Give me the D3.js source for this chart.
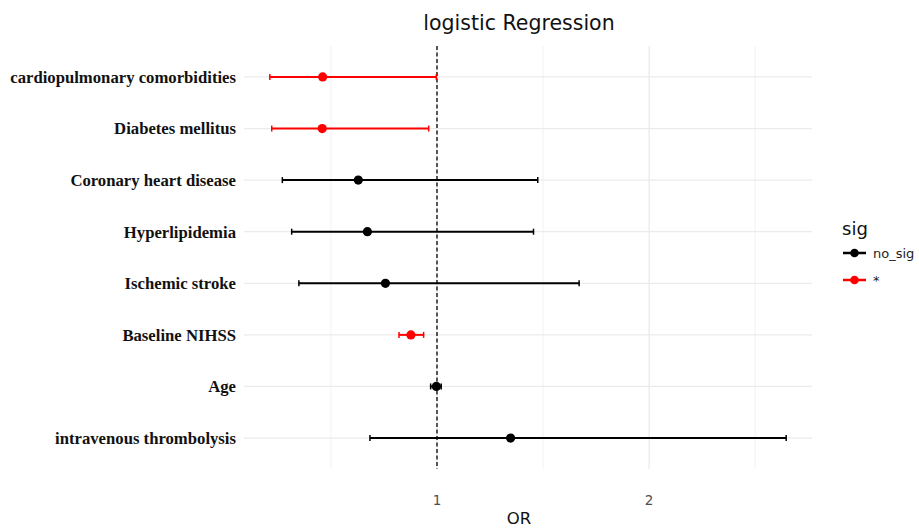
<!DOCTYPE html>
<html>
<head>
<meta charset="utf-8">
<script src="https://cdn.jsdelivr.net/npm/d3@7"></script>
<style>
    body { margin: 0; background: #fff; }
    svg { display: block; }
</style>
</head>
<body>
<div id="chart"></div>
<script>
const variables = [
    "cardiopulmonary comorbidities",
    "Diabetes mellitus",
    "Coronary heart disease",
    "Hyperlipidemia",
    "Ischemic stroke",
    "Baseline NIHSS",
    "Age",
    "intravenous thrombolysis"
];
const orValues = [0.461, 0.459, 0.629, 0.672, 0.757, 0.877, 0.997, 1.347];
const lowerCI  = [0.212, 0.221, 0.271, 0.315, 0.349, 0.821, 0.970, 0.684];
const upperCI  = [0.997, 0.961, 1.475, 1.455, 1.670, 0.937, 1.020, 2.646];
const sigGroup = ["*", "*", "no_sig", "no_sig", "no_sig", "*", "no_sig", "no_sig"];
const legendLevels = ["no_sig", "*"];
const xMajorTicks = [1, 2];
const xMinorTicks = [0.5, 1.5, 2.5];

const width = 919, height = 529;
const panel = { left: 244, right: 812, top: 46, bottom: 469 };

const data = variables.map((v, i) => ({
    name: v, or: orValues[i], lo: lowerCI[i], hi: upperCI[i], sig: sigGroup[i]
}));

const svg = d3.select("#chart").append("svg")
    .attr("width", width)
    .attr("height", height);

// ggplot-style 5% expansion of data range
const xMin = d3.min(lowerCI), xMax = d3.max(upperCI);
const pad = (xMax - xMin) * 0.05;
const x = d3.scaleLinear().domain([xMin - pad, xMax + pad]).range([panel.left, panel.right]);
const y = d3.scalePoint().domain(variables).range([panel.top, panel.bottom]).padding(0.6);
const color = d3.scaleOrdinal().domain(legendLevels).range(["#000000", "#ff0000"]);

// grid
svg.append("g").selectAll("line")
    .data(xMinorTicks)
    .join("line")
    .attr("x1", d => x(d)).attr("x2", d => x(d))
    .attr("y1", panel.top).attr("y2", panel.bottom)
    .attr("stroke", "#f2f2f2").attr("stroke-width", 1);

svg.append("g").selectAll("line")
    .data(xMajorTicks)
    .join("line")
    .attr("x1", d => x(d)).attr("x2", d => x(d))
    .attr("y1", panel.top).attr("y2", panel.bottom)
    .attr("stroke", "#ebebeb").attr("stroke-width", 1.3);

svg.append("g").selectAll("line")
    .data(variables)
    .join("line")
    .attr("x1", panel.left).attr("x2", panel.right)
    .attr("y1", d => y(d)).attr("y2", d => y(d))
    .attr("stroke", "#ebebeb").attr("stroke-width", 1.3);

// reference line at OR = 1
svg.append("line")
    .attr("x1", x(1)).attr("x2", x(1))
    .attr("y1", panel.top).attr("y2", panel.bottom)
    .attr("stroke", "#222").attr("stroke-width", 1.5)
    .attr("stroke-dasharray", "4,2.5");

// error bars
const rows = svg.append("g").selectAll("g")
    .data(data)
    .join("g")
    .attr("transform", d => `translate(0,${y(d.name)})`);

rows.append("line")
    .attr("x1", d => x(d.lo)).attr("x2", d => x(d.hi))
    .attr("stroke", d => color(d.sig)).attr("stroke-width", 2);

rows.append("line")
    .attr("x1", d => x(d.lo)).attr("x2", d => x(d.lo))
    .attr("y1", -3).attr("y2", 3)
    .attr("stroke", d => color(d.sig)).attr("stroke-width", 1.5);

rows.append("line")
    .attr("x1", d => x(d.hi)).attr("x2", d => x(d.hi))
    .attr("y1", -3).attr("y2", 3)
    .attr("stroke", d => color(d.sig)).attr("stroke-width", 1.5);

rows.append("circle")
    .attr("cx", d => x(d.or))
    .attr("r", 4.6)
    .attr("fill", d => color(d.sig));

// y labels
svg.append("g").selectAll("text")
    .data(variables)
    .join("text")
    .attr("x", 236)
    .attr("y", d => y(d))
    .attr("dy", "0.35em")
    .attr("text-anchor", "end")
    .attr("font-family", "'Liberation Serif', 'Times New Roman', serif")
    .attr("font-weight", "bold")
    .attr("font-size", 16.7)
    .attr("fill", "#111")
    .text(d => d);

// x tick labels
svg.append("g").selectAll("text")
    .data(xMajorTicks)
    .join("text")
    .attr("x", d => x(d))
    .attr("y", 505)
    .attr("text-anchor", "middle")
    .attr("font-family", "'DejaVu Sans', sans-serif")
    .attr("font-size", 13.5)
    .attr("fill", "#4d4d4d")
    .text(d => d);

// axis title
svg.append("text")
    .attr("x", 519).attr("y", 524)
    .attr("text-anchor", "middle")
    .attr("font-family", "'DejaVu Sans', sans-serif")
    .attr("font-size", 16.5)
    .attr("fill", "#111")
    .text("OR");

// plot title
svg.append("text")
    .attr("x", 519).attr("y", 30)
    .attr("text-anchor", "middle")
    .attr("font-family", "'DejaVu Sans', sans-serif")
    .attr("font-size", 20.5)
    .attr("fill", "#111")
    .text("logistic Regression");

// legend
const legend = svg.append("g").attr("transform", "translate(842,0)");
legend.append("text")
    .attr("x", 0).attr("y", 235)
    .attr("font-family", "'DejaVu Sans', sans-serif")
    .attr("font-size", 18)
    .attr("fill", "#111")
    .text("sig");

const keys = legend.selectAll("g.key")
    .data(legendLevels)
    .join("g")
    .attr("class", "key")
    .attr("transform", (d, i) => `translate(0,${253 + i * 27})`);

keys.append("line")
    .attr("x1", 1).attr("x2", 24)
    .attr("stroke", d => color(d)).attr("stroke-width", 2.5);
keys.append("circle")
    .attr("cx", 12.5).attr("r", 4.3)
    .attr("fill", d => color(d));
keys.append("text")
    .attr("x", 31).attr("dy", "0.35em")
    .attr("font-family", "'DejaVu Sans', sans-serif")
    .attr("font-size", 13)
    .attr("fill", "#222")
    .text(d => d);
</script>
</body>
</html>
